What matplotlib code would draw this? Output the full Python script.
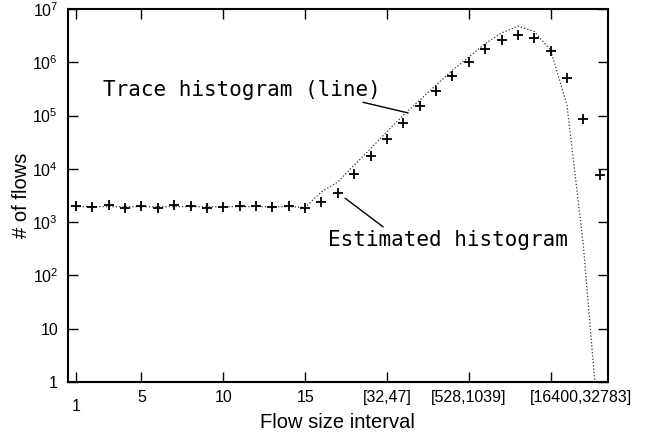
import numpy as np
import matplotlib
matplotlib.use('Agg')
import matplotlib.pyplot as plt
from matplotlib.transforms import ScaledTranslation

# data
bins = list(range(1, 34))
trace = [1950, 1950, 1960, 1940, 1950, 1940, 1960, 1950, 1940, 1950,
         1950, 1960, 1950, 1950, 1900, 3700, 5700, 11800, 24000, 50000,
         102000, 195000, 372000, 713000, 1.26e6, 2.24e6, 3.56e6, 4.8e6, 3.8e6, 1.7e6,
         158000, 370, 0.08]
estimated = [2020, 1950, 2080, 1880, 2000, 1850, 2080, 2020, 1880, 1950,
             2000, 2050, 1950, 2000, 1880, 2400, 3450, 8000, 17600, 37000,
             73000, 151000, 292000, 566000, 1.02e6, 1.77e6, 2.6e6, 3.2e6, 2.85e6, 1.6e6,
             500000, 85000, 7600]
xtick_pos = [1, 5, 10, 15, 20, 25, 30]
xtick_labels = ['1', '5', '10', '15', '[32,47]', '[528,1039]', '[16400,32783]']
ytick_pos = [1, 10, 1e2, 1e3, 1e4, 1e5, 1e6, 1e7]
ytick_labels = ['1', '10'] + [r'$\mathdefault{10^{%d}}$' % k for k in range(2, 8)]

plt.rcParams['font.family'] = 'Liberation Sans'
plt.rcParams['mathtext.fontset'] = 'custom'
plt.rcParams['mathtext.rm'] = 'Liberation Sans'

fig = plt.figure(figsize=(6.46, 4.33), dpi=100)
ax = fig.add_axes([0.105, 0.118, 0.836, 0.861])

ax.plot(bins, trace, linestyle=':', color='#333333', lw=0.9)
ax.plot(bins, estimated, linestyle='none', marker='+', color='black',
        markersize=7.5, markeredgewidth=1.3)

ax.set_yscale('log')
ax.set_xlim(0.5, 33.5)
ax.set_ylim(1, 1e7)
ax.set_xticks(xtick_pos)
ax.set_xticklabels(xtick_labels, fontsize=11.5)
ax.set_yticks(ytick_pos)
ax.set_yticklabels(ytick_labels, fontsize=11.5)
ax.minorticks_off()
ax.tick_params(direction='in', length=7, width=1, top=True, right=True, pad=7)
ax.tick_params(axis='x', pad=6)
for s in ax.spines.values():
    s.set_linewidth(1.5)

# the "1" label sits a little lower, the last one further right
labels = ax.get_xticklabels()
labels[0].set_transform(labels[0].get_transform() + ScaledTranslation(0, -6 / 72, fig.dpi_scale_trans))
labels[-1].set_transform(labels[-1].get_transform() + ScaledTranslation(30 / 100, 0, fig.dpi_scale_trans))

ax.set_xlabel('Flow size interval', fontsize=14.5)
ax.set_ylabel('# of flows', fontsize=14.5)
ax.xaxis.set_label_coords(0.5, -0.083)
ax.yaxis.set_label_coords(-0.068, 0.5)

mono = 'DejaVu Sans Mono'
ax.text(2.65, 10 ** 5.48, 'Trace histogram (line)', family=mono, fontsize=15, va='center')
ax.annotate('', xy=(21.29, 10 ** 5.05), xytext=(18.54, 10 ** 5.25),
            arrowprops=dict(arrowstyle='-', lw=1, color='black', shrinkA=0, shrinkB=0))
ax.text(16.4, 10 ** 2.66, 'Estimated histogram', family=mono, fontsize=15, va='center')
ax.annotate('', xy=(17.44, 10 ** 3.45), xytext=(19.77, 10 ** 2.91),
            arrowprops=dict(arrowstyle='-', lw=1, color='black', shrinkA=0, shrinkB=0))

fig.savefig('out.png', dpi=100)
